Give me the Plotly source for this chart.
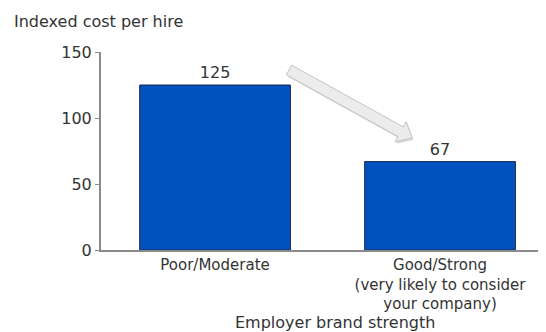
import plotly.graph_objects as go

categories = ["Poor/Moderate", "Good/Strong<br>(very likely to consider<br>your company)"]
values = [125, 67]
y_ticks = [0, 50, 100, 150]
y_title = "Indexed cost per hire"
x_title = "Employer brand strength"

# page has an 8px body margin: figure origin sits at (8, 8) in the window
OFF = 8
W, H = 546 - OFF, 332 - OFF
L, R, T, B = 101 - OFF, 0, 52 - OFF, 82
PW, PH = W - L - R, H - T - B


def px2paper(px, py):
    """window pixel -> paper coordinates"""
    return (px - OFF - L) / PW, (H - B - (py - OFF)) / PH


def poly_path(points):
    pts = [px2paper(x, y) for x, y in points]
    return "M " + " L ".join(f"{x:.4f},{y:.4f}" for x, y in pts) + " Z"


FONT = "DejaVu Sans, Verdana, sans-serif"
TXT = "#333333"

fig = go.Figure(
    go.Bar(
        x=categories,
        y=values,
        width=0.67,
        marker=dict(color="#0052BF", line=dict(color="#1a2850", width=1)),
        text=[str(v) for v in values],
        textposition="outside",
        textfont=dict(family=FONT, size=16, color=TXT),
        cliponaxis=False,
    )
)

# decorative block arrow (window pixel geometry)
arrow = [(286.3, 74.8), (397.9, 136.5), (395.0, 141.8), (412.0, 138.0),
         (406.2, 121.6), (403.3, 126.9), (291.7, 65.2)]
shadow = [(x + 1.5, y + 2) for x, y in arrow]
fig.add_shape(type="path", xref="paper", yref="paper", path=poly_path(shadow),
              fillcolor="rgba(170,170,170,0.45)", line=dict(width=0), layer="above")
fig.add_shape(type="path", xref="paper", yref="paper", path=poly_path(arrow),
              fillcolor="#ececec", line=dict(color="#c4c4c4", width=1), layer="above")

tx, ty = px2paper(12, 22)
fig.add_annotation(text=y_title, xref="paper", yref="paper", x=tx, y=ty,
                   xanchor="left", yanchor="middle", showarrow=False,
                   font=dict(family=FONT, size=16, color=TXT))
ax, ay = px2paper(335, 322)
fig.add_annotation(text=x_title, xref="paper", yref="paper", x=ax, y=ay,
                   xanchor="center", yanchor="middle", showarrow=False,
                   font=dict(family=FONT, size=16, color=TXT))

fig.update_layout(
    width=W, height=H,
    margin=dict(l=L, r=R, t=T, b=B, pad=0),
    paper_bgcolor="white", plot_bgcolor="white",
    showlegend=False,
    xaxis=dict(range=[-0.507, 1.471], showgrid=False, zeroline=False,
               showline=True, linecolor="#8a8a8a", linewidth=2,
               ticks="", tickfont=dict(family=FONT, size=15, color=TXT)),
    yaxis=dict(range=[0, 150], tickvals=y_ticks, showgrid=False, zeroline=False,
               showline=True, linecolor="#8a8a8a", linewidth=2,
               ticks="outside", ticklen=4, tickcolor="#8a8a8a", tickwidth=1,
               tickfont=dict(family=FONT, size=16, color=TXT)),
)

fig.write_html("out.html")
